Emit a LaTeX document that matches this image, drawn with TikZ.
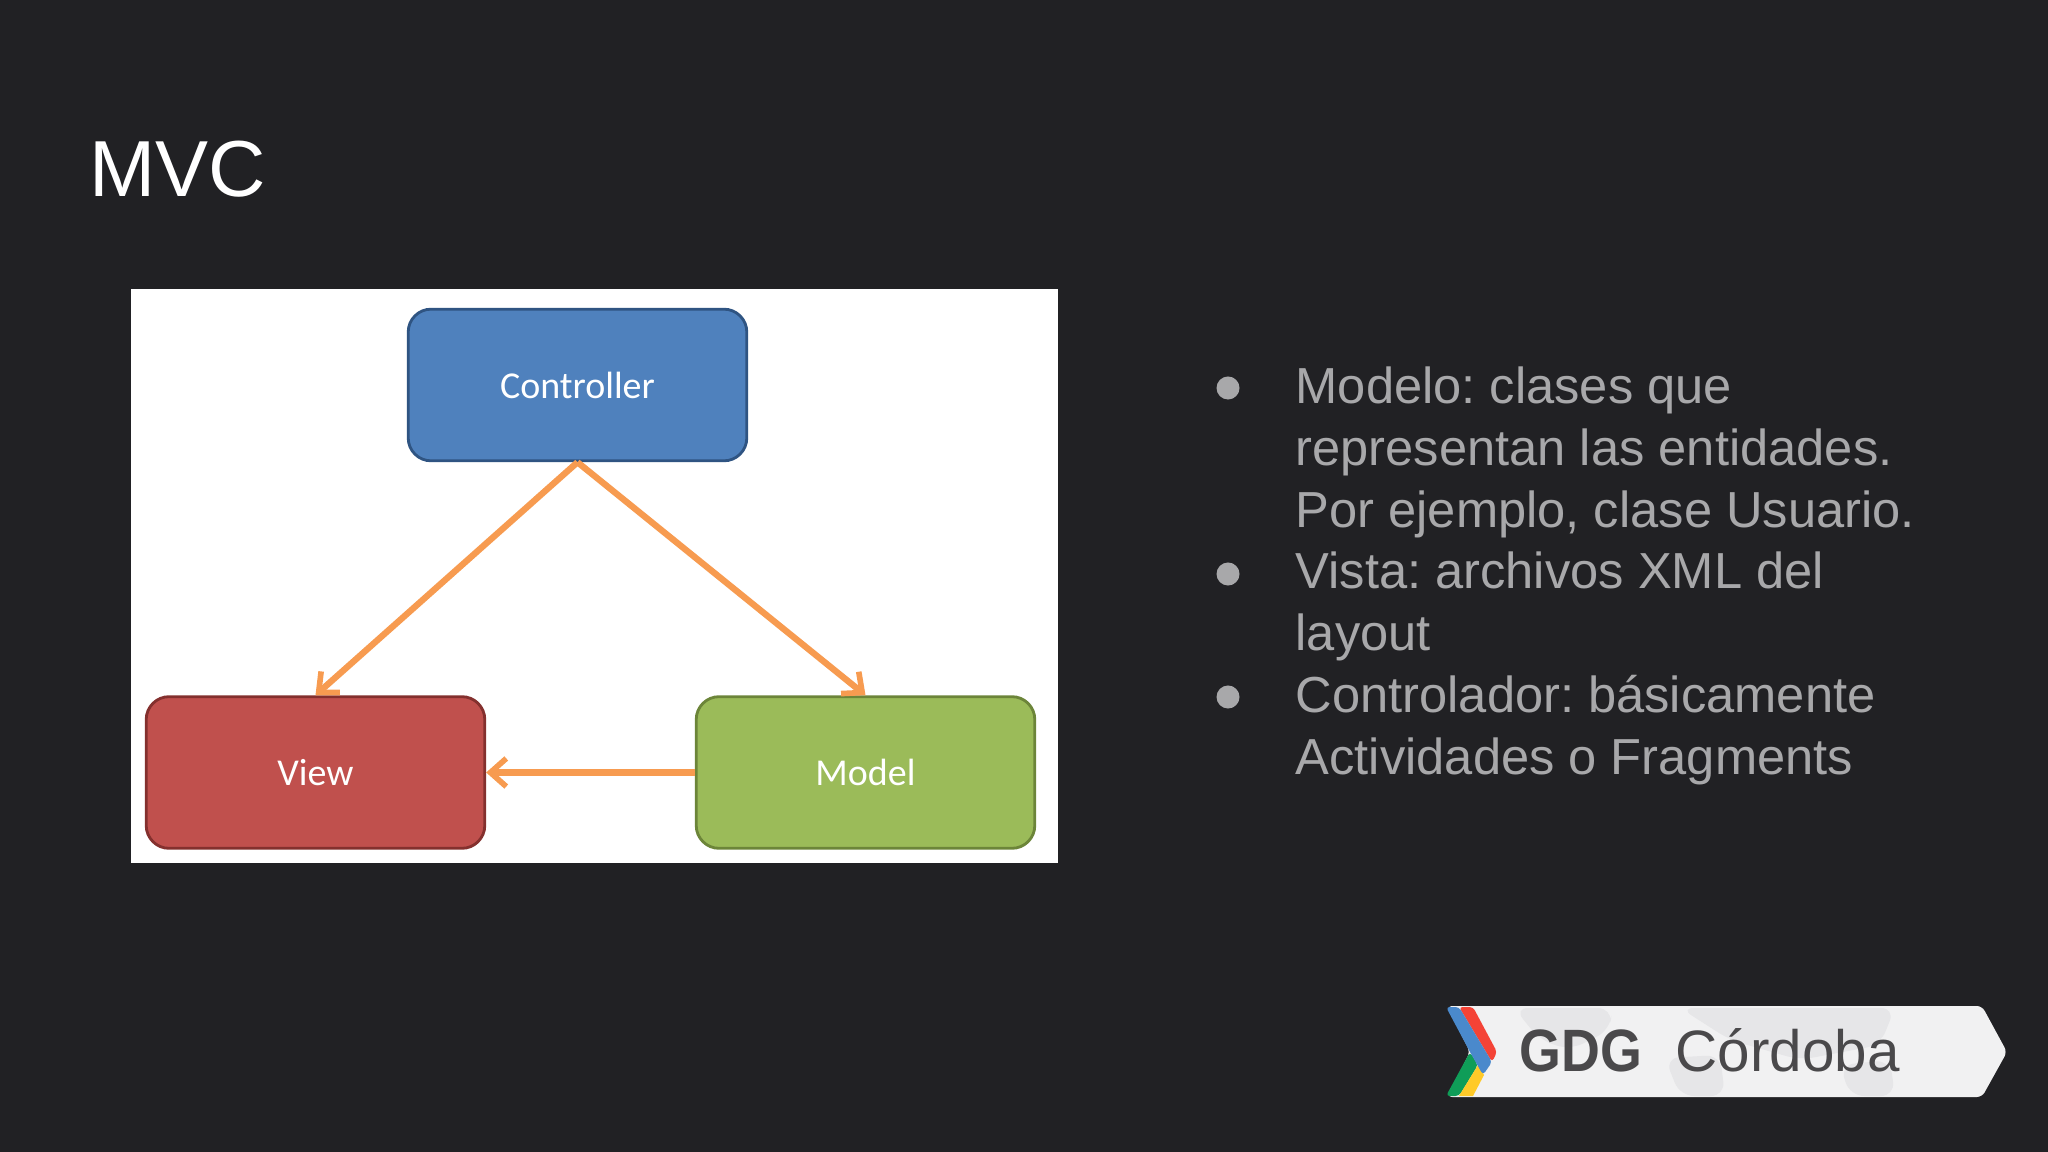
\documentclass[tikz,border=0pt]{standalone}
\usepackage{fontspec}
\setmainfont{Liberation Sans}
\newfontfamily\boxfont{Carlito}
\usepackage{tikz}
\usetikzlibrary{arrows.meta}
\frenchspacing

\definecolor{slidebg}{HTML}{212124}
\definecolor{bodygray}{HTML}{A8A8AA}
\definecolor{boxblue}{HTML}{4F81BD}
\definecolor{boxblueline}{HTML}{2F5482}
\definecolor{boxred}{HTML}{C0504D}
\definecolor{boxredline}{HTML}{84302E}
\definecolor{boxgreen}{HTML}{9BBB59}
\definecolor{boxgreenline}{HTML}{6C8539}
\definecolor{arroworange}{HTML}{F79B50}
\definecolor{banner}{HTML}{F1F1F2}
\definecolor{mapgray}{HTML}{E6E6E8}
\definecolor{logotext}{HTML}{4A494B}
\definecolor{logored}{HTML}{F44336}
\definecolor{logogreen}{HTML}{0F9D58}
\definecolor{logoyellow}{HTML}{FFCA28}
\definecolor{logoblue}{HTML}{4A89CC}

\tikzset{
	mvcbox/.style={shape=rectangle,rounded corners=6.5pt,line width=0.8pt,minimum width=9.6cm*0.3525,minimum height=4.3cm*0.3525,text=white,font=\boxfont\fontsize{10.8}{13}\selectfont},
	mvcarrow/.style={draw=arroworange,line width=1.8pt,-{Straight Barb[length=4.5pt,width=8pt,line width=1.6pt]}},
	bodytext/.style={align=left,anchor=north west,inner sep=0pt,text=bodygray,font=\fontsize{14.4}{17.6}\selectfont},
	bulletdot/.style={shape=circle,fill=bodygray,inner sep=0pt,minimum size=0.23cm}
}

\begin{document}
\begin{tikzpicture}[x=0.01cm,y=-0.01cm]
	\useasboundingbox (0,0) rectangle (2048,1152);
	\fill[slidebg] (0,0) rectangle (2048,1152);

	\node[anchor=base west,inner sep=0pt,text=white,font=\fontsize{22.6}{28}\selectfont] (title) at (89,197) {MVC};

	\fill[white] (131,289) rectangle (1058,863);

	\node[mvcbox,fill=boxblue,draw=boxblueline] (controller) at (577.5,385) {Controller};
	\node[mvcbox,fill=boxred,draw=boxredline] (view) at (315.5,772.5) {View};
	\node[mvcbox,fill=boxgreen,draw=boxgreenline] (model) at (865.5,772.5) {Model};

	\path[mvcarrow] (controller.south) -- (view.north);
	\path[mvcarrow] (controller.south) -- (model.north);
	\path[mvcarrow] (model.west) -- (view.east);

	\node[bulletdot] (b1) at (1228,388) {};
	\node[bulletdot] (b2) at (1228,574) {};
	\node[bulletdot] (b3) at (1228,697) {};
	\node[bodytext] (t1) at (1295,366) {Modelo: clases que\\representan las entidades.\\Por ejemplo, clase Usuario.};
	\node[bodytext] (t2) at (1295,551) {Vista: archivos XML del\\layout};
	\node[bodytext] (t3) at (1295,675) {Controlador: básicamente\\Actividades o Fragments};

	% logo
	\fill[banner,rounded corners=1.5pt] (1447,1006) -- (1982,1006) -- (2007,1052) -- (1982,1097) -- (1447,1097) -- (1470,1052) -- cycle;
	\fill[mapgray,rounded corners=4pt] (1514,1008) -- (1612,1008) -- (1610,1030) -- (1570,1050) -- (1540,1040) -- cycle;
	\fill[mapgray,rounded corners=4pt] (1680,1008) -- (1895,1008) -- (1880,1045) -- (1800,1060) -- (1730,1040) -- cycle;
	\fill[mapgray,rounded corners=4pt] (1665,1058) -- (1720,1055) -- (1725,1096) -- (1680,1096) -- cycle;
	\fill[mapgray,rounded corners=4pt] (1840,1065) -- (1890,1060) -- (1895,1096) -- (1850,1096) -- cycle;
	\fill[logogreen,rounded corners=1pt] (1470,1052) -- (1446,1096) -- (1459,1096) -- (1478,1065) -- cycle;
	\fill[logoyellow] (1459,1096) -- (1473,1096) -- (1484,1075) -- (1478,1065) -- cycle;
	\fill[logored,rounded corners=1pt] (1459,1007) -- (1473,1007) -- (1497,1052) -- (1492,1062) -- cycle;
	\fill[logoblue,rounded corners=1pt] (1446,1007) -- (1459,1007) -- (1492,1062) -- (1483,1075) -- (1470,1052) -- cycle;
	\node[anchor=base west,inner sep=0pt,text=logotext,xscale=0.9,font=\fontsize{17}{18}\selectfont\bfseries] (gdg) at (1519,1071) {GDG};
	\node[anchor=base west,inner sep=0pt,text=logotext,font=\fontsize{16.6}{18}\selectfont] (cordoba) at (1675,1071) {Córdoba};
\end{tikzpicture}
\end{document}
